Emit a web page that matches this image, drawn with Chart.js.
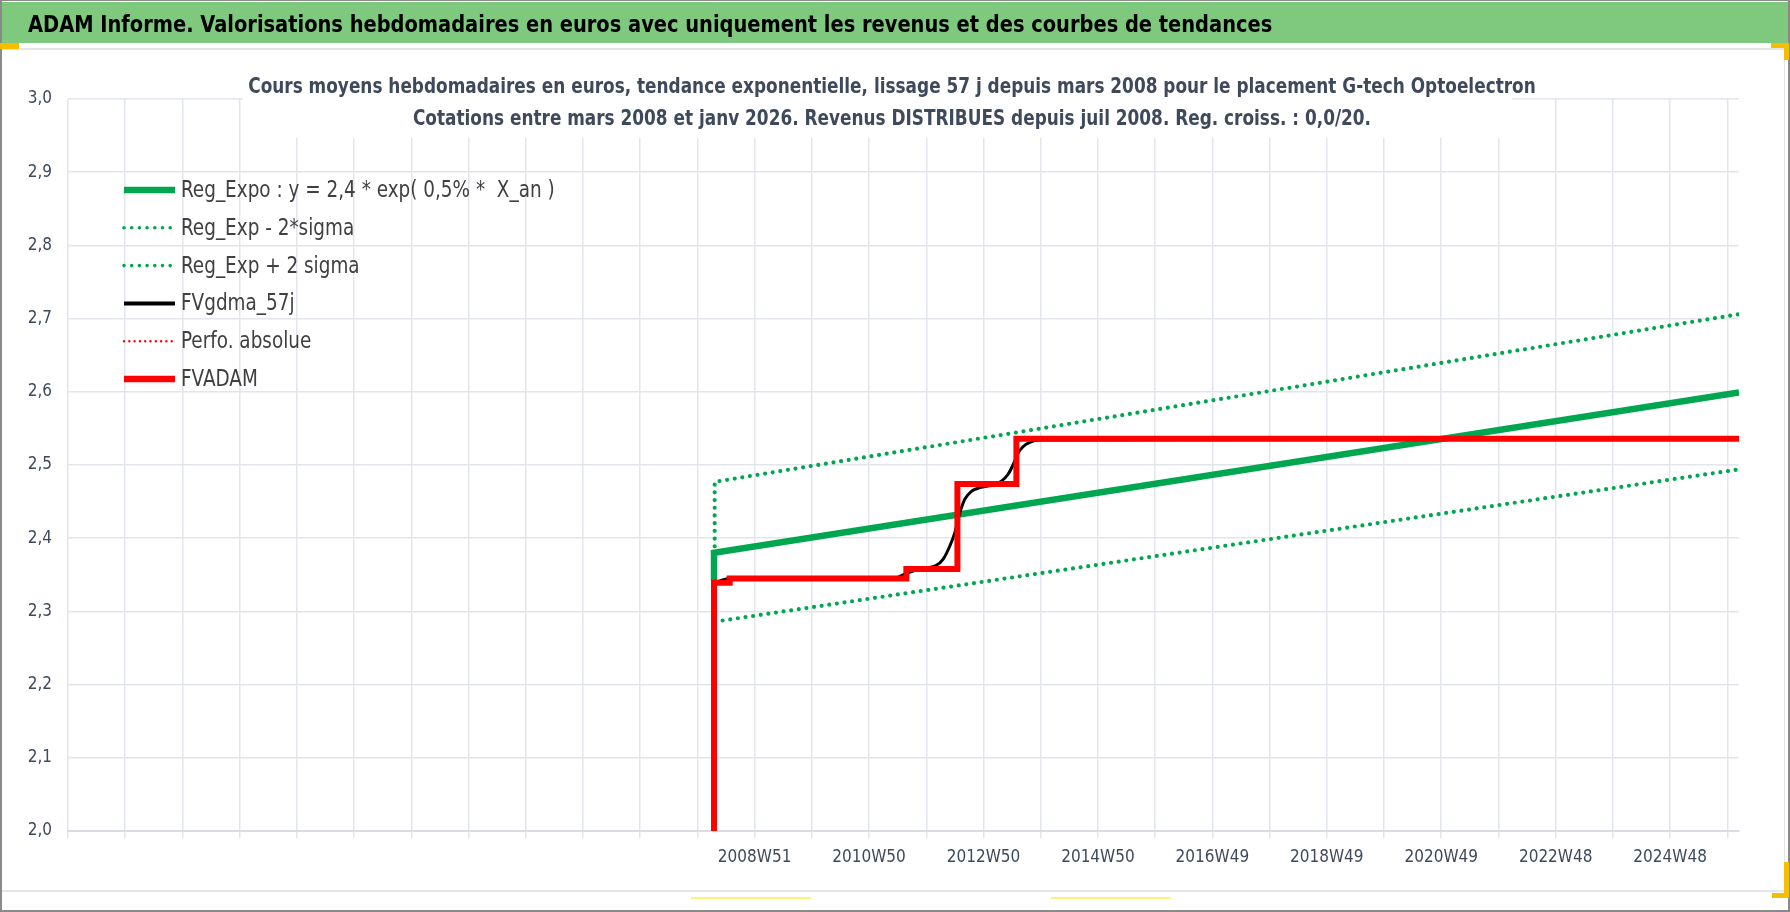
<!DOCTYPE html>
<html>
<head>
<meta charset="utf-8">
<script src="https://cdn.jsdelivr.net/npm/chart.js@4.4.1/dist/chart.umd.min.js"></script>
<style>
  body { margin: 0; background: #ffffff; }
  #page { position: relative; width: 1790px; height: 912px; overflow: hidden; background: #ffffff; }
  #banner {
    position: absolute; left: 0; top: 2px; width: 1790px; height: 41px;
    background: #7fc97f; color: #000000;
    font: bold 23px "DejaVu Sans Condensed", "DejaVu Sans", sans-serif;
    line-height: 45px; padding-left: 28px; box-sizing: border-box; white-space: nowrap;
  }
  #banner span { display: inline-block; transform: scaleX(0.939); transform-origin: left center; }
  #chart { position: absolute; left: 0; top: 0; }
  .mark { position: absolute; }
</style>
</head>
<body>
<div id="page">
  <canvas id="chart" width="1790" height="912"></canvas>
  <div id="banner"><span>ADAM Informe. Valorisations hebdomadaires en euros avec uniquement les revenus et des courbes de tendances</span></div>
  <!-- cadre et poignées de sélection -->
  <div class="mark" style="left:0;top:48px;width:1785px;height:2px;background:#e4e6ea"></div>
  <div class="mark" style="left:1784px;top:48px;width:1px;height:843px;background:#e4e6ea"></div>
  <div class="mark" style="left:0;top:890px;width:1785px;height:2px;background:#e4e6ea"></div>
  <div class="mark" style="left:0;top:0;width:2px;height:912px;background:#8a8a8a"></div>
  <div class="mark" style="left:0;top:0;width:1790px;height:1px;background:#8a8a8a"></div>
  <div class="mark" style="left:0;top:910px;width:1790px;height:2px;background:#8a8a8a"></div>
  <div class="mark" style="left:1788px;top:0;width:2px;height:912px;background:#8a8a8a"></div>
  <div class="mark" style="left:0;top:43px;width:19px;height:6px;background:#f5bf00"></div>
  <div class="mark" style="left:1771px;top:43px;width:18px;height:5px;background:#f5bf00"></div>
  <div class="mark" style="left:1784px;top:43px;width:5px;height:17px;background:#f5bf00"></div>
  <div class="mark" style="left:1784px;top:862px;width:5px;height:36px;background:#f5bf00"></div>
  <div class="mark" style="left:1772px;top:893px;width:17px;height:5px;background:#f5bf00"></div>
  <div class="mark" style="left:691px;top:897px;width:120px;height:2px;background:#fff27a"></div>
  <div class="mark" style="left:1051px;top:897px;width:120px;height:2px;background:#fff27a"></div>
</div>
<script>
/* x = numéro de semaine depuis le début de l'axe (52 semaines entre deux graduations) */
const gridStep = 52;
const axisEnd = 1518.6;
const labelWeeks = [624, 728, 832, 936, 1040, 1144, 1248, 1352, 1456];
const tickLabels = ["2008W51", "2010W50", "2012W50", "2014W50", "2016W49", "2018W49", "2020W49", "2022W48", "2024W48"];
const yTicks = [2.0, 2.1, 2.2, 2.3, 2.4, 2.5, 2.6, 2.7, 2.8, 2.9, 3.0];

const regWeeks = [587.1, 587.1, 1518.6];
const regValues = [2.342, 2.380, 2.599];
const lowWeeks = [588.0, 1518.6];
const lowValues = [2.286, 2.494];
const highWeeks = [587.7, 587.7, 1518.6];
const highValues = [2.389, 2.477, 2.706];
const gdmaWeeks = [587.1, 601.3, 749.7, 761.9, 774.0, 789.2, 795.2, 801.3, 805.8, 810.4, 814.9, 821.0, 828.5, 840.6, 848.3, 854.2, 858.8, 863.3, 867.9, 874.0, 883.0, 1518.6];
const gdmaValues = [2.339, 2.345, 2.345, 2.352, 2.358, 2.363, 2.371, 2.389, 2.407, 2.434, 2.453, 2.464, 2.469, 2.473, 2.478, 2.487, 2.500, 2.516, 2.525, 2.531, 2.534, 2.536];
const perfoWeeks = [];
const perfoValues = [];
const adamWeeks = [587.1, 587.1, 601.3, 761.9, 808.3, 861.9, 1518.6];
const adamValues = [2.0, 2.339, 2.345, 2.358, 2.474, 2.536, 2.536];

const FONT = '"DejaVu Sans Condensed", "DejaVu Sans", sans-serif';
const TEXT_COLOR = "#3e4a5c";
const GRID_COLOR = "#e2e5eb";

function points(weeks, values) {
    return weeks.map(function (w, i) { return { x: w, y: values[i] }; });
}

// texte un peu resserré pour approcher la police étroite de l'original
function narrowText(ctx, text, x, y, sx) {
    ctx.save();
    ctx.translate(x, y);
    ctx.scale(sx, 1);
    ctx.fillText(text, 0, 0);
    ctx.restore();
}

const titlePlugin = {
    id: "chartTitle",
    beforeDatasetsDraw(chart) {
        const ctx = chart.ctx;
        ctx.save();
        ctx.fillStyle = "#ffffff";
        ctx.fillRect(243, 55, 1269, 83);
        ctx.restore();
    },
    afterDraw(chart) {
        const ctx = chart.ctx;
        ctx.save();
        ctx.fillStyle = TEXT_COLOR;
        ctx.font = "bold 21px " + FONT;
        ctx.textAlign = "center";
        ctx.textBaseline = "middle";
        narrowText(ctx, "Cours moyens hebdomadaires en euros, tendance exponentielle, lissage 57 j depuis mars 2008 pour le placement G-tech Optoelectron", 892, 88, 0.895);
        narrowText(ctx, "Cotations entre mars 2008 et janv 2026. Revenus DISTRIBUES depuis juil 2008. Reg. croiss. : 0,0/20.", 892, 120, 0.895);
        ctx.restore();
    }
};

const legendPlugin = {
    id: "insideLegend",
    afterDraw(chart) {
        const ctx = chart.ctx;
        chart.data.datasets.forEach(function (ds, i) {
            const y = 190 + i * 37.8;
            ctx.save();
            ctx.strokeStyle = ds.borderColor;
            ctx.lineWidth = ds.legendWidth;
            ctx.lineCap = ds.legendDash ? "round" : "butt";
            ctx.setLineDash(ds.legendDash || []);
            ctx.beginPath();
            ctx.moveTo(124, y);
            ctx.lineTo(175, y);
            ctx.stroke();
            ctx.fillStyle = "#404040";
            ctx.font = "23px " + FONT;
            ctx.textBaseline = "middle";
            narrowText(ctx, ds.label, 181, y + 1, 0.89);
            ctx.restore();
        });
    }
};

new Chart(document.getElementById("chart"), {
    type: "line",
    data: {
        datasets: [{
            label: "Reg_Expo : y = 2,4 * exp( 0,5% *  X_an )",
            data: points(regWeeks, regValues),
            borderColor: "#00a650",
            borderWidth: 6.5,
            legendWidth: 6.5,
            order: 3
        }, {
            label: "Reg_Exp - 2*sigma",
            data: points(lowWeeks, lowValues),
            borderColor: "#00a650",
            borderWidth: 4.2,
            borderDash: [0, 7.7],
            borderCapStyle: "round",
            legendWidth: 3.6,
            legendDash: [0, 7.7],
            order: 5
        }, {
            label: "Reg_Exp + 2 sigma",
            data: points(highWeeks, highValues),
            borderColor: "#00a650",
            borderWidth: 4.2,
            borderDash: [0, 7.7],
            borderCapStyle: "round",
            borderJoinStyle: "round",
            legendWidth: 3.6,
            legendDash: [0, 7.7],
            order: 4
        }, {
            label: "FVgdma_57j",
            data: points(gdmaWeeks, gdmaValues),
            borderColor: "#000000",
            borderWidth: 3,
            cubicInterpolationMode: "monotone",
            legendWidth: 4,
            order: 2
        }, {
            label: "Perfo. absolue",
            data: points(perfoWeeks, perfoValues),
            borderColor: "#ff0000",
            borderWidth: 2,
            borderDash: [0, 5.3],
            borderCapStyle: "round",
            legendWidth: 2.4,
            legendDash: [0, 5.3],
            order: 1
        }, {
            label: "FVADAM",
            data: points(adamWeeks, adamValues),
            borderColor: "#ff0000",
            borderWidth: 6,
            stepped: true,
            legendWidth: 6.5,
            order: 0
        }]
    },
    options: {
        responsive: false,
        animation: false,
        layout: {
            padding: { left: 8, right: 51, top: 99, bottom: 21 }
        },
        elements: {
            point: { radius: 0 },
            line: { tension: 0 }
        },
        plugins: {
            legend: { display: false },
            tooltip: { enabled: false },
            title: { display: false }
        },
        scales: {
            x: {
                type: "linear",
                min: 0,
                max: axisEnd,
                afterBuildTicks: function (axis) {
                    const ticks = [];
                    for (let w = 0; w <= axisEnd; w += gridStep) {
                        ticks.push({ value: w });
                    }
                    axis.ticks = ticks;
                },
                afterFit: function (axis) { axis.height = 60; },
                ticks: {
                    autoSkip: false,
                    maxRotation: 0,
                    padding: 9,
                    color: TEXT_COLOR,
                    font: { family: FONT, size: 17 },
                    callback: function (value) {
                        const k = labelWeeks.indexOf(value);
                        return k >= 0 ? tickLabels[k] : "";
                    }
                },
                grid: { color: GRID_COLOR, lineWidth: 1.5, tickLength: 7 },
                border: { color: "#d9dce2", width: 2 }
            },
            y: {
                min: 2.0,
                max: 3.0,
                afterBuildTicks: function (axis) {
                    axis.ticks = yTicks.map(function (v) { return { value: v }; });
                },
                afterFit: function (axis) { axis.width = 60; },
                ticks: {
                    padding: 16,
                    color: TEXT_COLOR,
                    font: { family: FONT, size: 17 },
                    callback: function (value) { return value.toFixed(1).replace(".", ","); }
                },
                grid: { color: GRID_COLOR, lineWidth: 1.5, drawTicks: false },
                border: { display: false }
            }
        }
    },
    plugins: [titlePlugin, legendPlugin]
});
</script>
</body>
</html>
